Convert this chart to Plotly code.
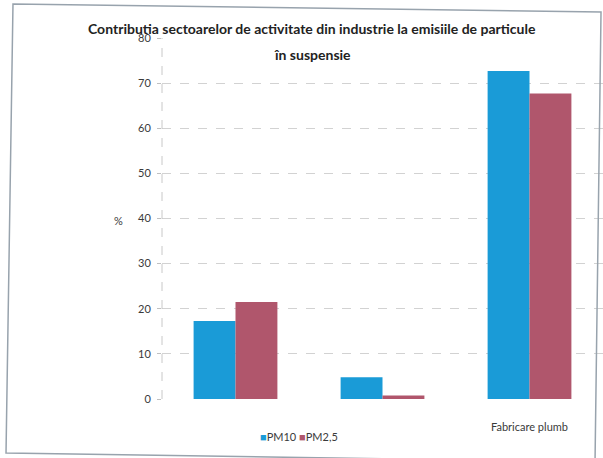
import plotly.graph_objects as go

# Sector positions along the category axis and their printed labels
sector_pos = [0, 1, 2]
sector_labels = ["", "", "Fabricare plumb"]

# Share of particulate emissions (%) per industrial sector
series_names = ["PM10", "PM2,5"]
pm10 = [17.3, 4.8, 72.7]
pm25 = [21.5, 0.8, 67.7]

y_ticks = [0, 10, 20, 30, 40, 50, 60, 70, 80]

colors = ["#1a9bd7", "#b0566c"]

W, H = 603, 458
L, R, T, B = 162, 0, 38, 59
pw, ph = W - L - R, H - T - B


def px_x(px):
    return (px - L) / pw


def px_y(py):
    return (H - B - py) / ph


font_main = "Lato, sans-serif"

fig = go.Figure()
for name, vals, col in zip(series_names, [pm10, pm25], colors):
    fig.add_trace(go.Bar(x=sector_pos, y=vals, name=name, showlegend=False,
                         marker=dict(color=col, line=dict(width=0))))

fig.update_layout(
    width=W, height=H,
    margin=dict(l=L, r=R, t=T, b=B),
    paper_bgcolor="white", plot_bgcolor="white",
    barmode="group", bargap=0.43, bargroupgap=0,
    font=dict(family=font_main, size=11, color="#3a3a3a"),
    xaxis=dict(range=[-0.5, 2.5], tickmode="array", tickvals=sector_pos,
               ticktext=sector_labels, showgrid=False, zeroline=False,
               showline=False, ticks="outside", ticklen=18,
               tickcolor="rgba(0,0,0,0)",
               tickfont=dict(size=11, color="#3a3a3a")),
    yaxis=dict(range=[0, 80], tickmode="array", tickvals=y_ticks,
               showgrid=True, gridcolor="#d2d2d2", griddash="dash",
               gridwidth=1, zeroline=False, showline=False,
               ticks="outside", ticklen=4, tickcolor="#c0c0c0",
               ticklabelstandoff=4,
               tickfont=dict(size=11, color="#3a3a3a")),
)

# dashed left axis line
fig.add_shape(type="line", xref="paper", yref="paper",
              x0=0, x1=0, y0=0, y1=1,
              line=dict(color="#c8c8c8", width=1, dash="dash"))

# outer chart frame (slightly skewed, as on the printed page)
frame_pts = [(13, 4), (601, 12), (595, 462), (6, 453)]
frame_path = "M " + " L ".join(f"{px_x(a):.4f},{px_y(b):.4f}" for a, b in frame_pts) + " Z"
fig.add_shape(type="path", xref="paper", yref="paper", path=frame_path,
              line=dict(color="#98a3ad", width=1.5))

# two-line title
fig.add_annotation(text="<b>Contributia sectoarelor de activitate din industrie la emisiile de particule</b>",
                   xref="paper", yref="paper", x=px_x(312), y=px_y(28),
                   showarrow=False, xanchor="center", yanchor="middle",
                   font=dict(family=font_main, size=14, color="#222"))
fig.add_annotation(text="<b>în suspensie</b>",
                   xref="paper", yref="paper", x=px_x(312), y=px_y(54),
                   showarrow=False, xanchor="center", yanchor="middle",
                   font=dict(family=font_main, size=14, color="#222"))

# y-axis unit
fig.add_annotation(text="%", xref="paper", yref="paper",
                   x=px_x(118), y=px_y(220), showarrow=False,
                   xanchor="center", yanchor="middle",
                   font=dict(family=font_main, size=11, color="#3a3a3a"))

# compact legend: coloured squares next to series names
legend_text = " ".join(
    f"<span style='color:{c}'>■</span>{n}" for n, c in zip(series_names, colors)
)
fig.add_annotation(text=legend_text, xref="paper", yref="paper",
                   x=px_x(258), y=px_y(437), showarrow=False,
                   xanchor="left", yanchor="middle",
                   font=dict(family=font_main, size=11, color="#3a3a3a"))

fig.write_html("out.html")
